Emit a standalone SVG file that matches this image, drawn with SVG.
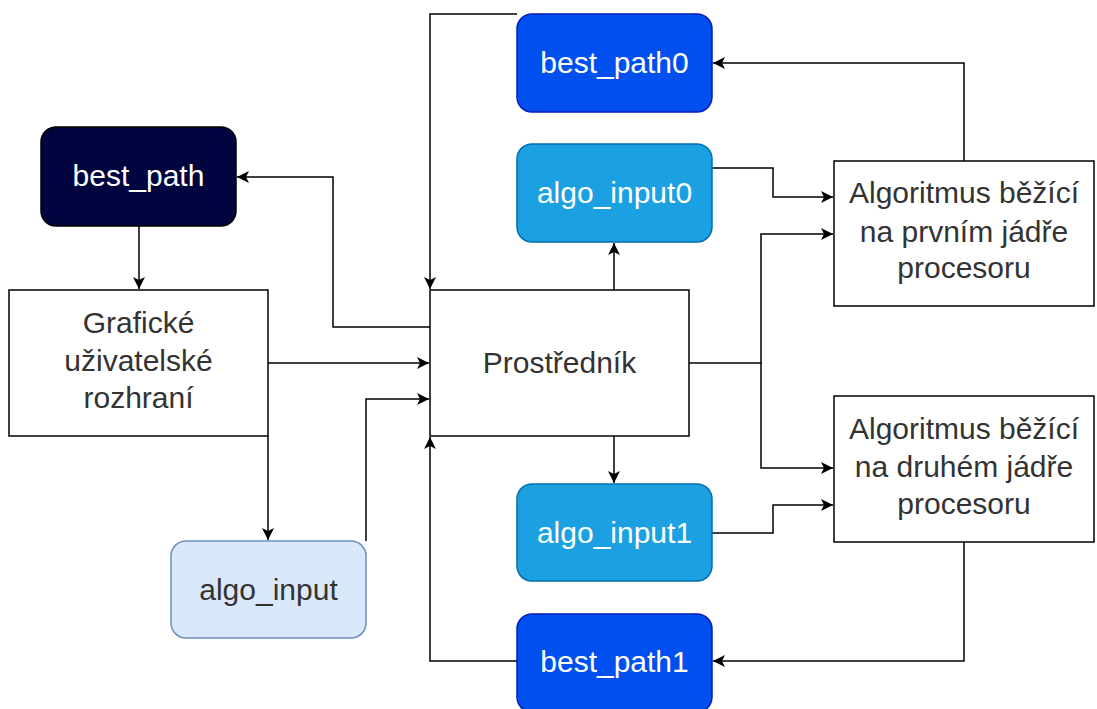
<svg xmlns="http://www.w3.org/2000/svg" width="1097" height="709" viewBox="0 0 1097 709">
<style>
.lbl{font-family:"Liberation Sans",Arial,sans-serif;font-size:30px;text-anchor:middle}
.w{fill:#ffffff}
.d{fill:#333333}
.box{fill:#ffffff;stroke:#000000;stroke-width:1.5}
.c{fill:none;stroke:#000000;stroke-width:1.5;marker-end:url(#arr)}
</style>
<defs>
<marker id="arr" markerUnits="userSpaceOnUse" markerWidth="14" markerHeight="12" refX="12" refY="6" orient="auto">
<path d="M0,0 L12,6 L0,12 L3,6 Z" fill="#000000"/>
</marker>
</defs>
<rect width="1097" height="709" fill="#ffffff"/>
<g id="connectors">
<path class="c" d="M139,226 V289"/>
<path class="c" d="M430,327 H333 V177 H237"/>
<path class="c" d="M268,363 H429"/>
<path class="c" d="M268,436 V540"/>
<path class="c" d="M366,541 V399 H429"/>
<path class="c" d="M517,14 H430 V289"/>
<path class="c" d="M614,290 V243"/>
<path class="c" d="M614,436 V483"/>
<path class="c" d="M517,661 H430 V437"/>
<path class="c" d="M712,168 H773 V197 H833"/>
<path class="c" d="M689,363 H761 V234 H833"/>
<path class="c" d="M761,363 V468 H833"/>
<path class="c" d="M712,533 H773 V505 H833"/>
<path class="c" d="M964,161 V63 H713"/>
<path class="c" d="M964,542 V661 H713"/>
</g>
<g id="best_path">
<rect x="41" y="127" width="195" height="99" rx="15" fill="#00043f" stroke="#000000" stroke-width="1.5"/>
<text class="lbl w" x="138.5" y="186">best_path</text>
</g>
<g id="gui">
<rect class="box" x="9" y="290" width="259" height="146"/>
<text class="lbl d" x="138.5" y="333">Grafické</text>
<text class="lbl d" x="138.5" y="371">uživatelské</text>
<text class="lbl d" x="138.5" y="408">rozhraní</text>
</g>
<g id="algo_input">
<rect x="171" y="541" width="195" height="97" rx="15" fill="#dae8fc" stroke="#6c8ebf" stroke-width="1.5"/>
<text class="lbl d" x="268.5" y="600">algo_input</text>
</g>
<g id="prostrednik">
<rect class="box" x="430" y="290" width="259" height="146"/>
<text class="lbl d" x="559.5" y="373">Prostředník</text>
</g>
<g id="best_path0">
<rect x="517" y="14" width="195" height="98" rx="15" fill="#0050ef" stroke="#001dbc" stroke-width="1.5"/>
<text class="lbl w" x="614.5" y="73">best_path0</text>
</g>
<g id="algo_input0">
<rect x="517" y="144" width="195" height="98" rx="15" fill="#1ba1e2" stroke="#006eaf" stroke-width="1.5"/>
<text class="lbl w" x="614.5" y="203">algo_input0</text>
</g>
<g id="algo_input1">
<rect x="517" y="484" width="195" height="97" rx="15" fill="#1ba1e2" stroke="#006eaf" stroke-width="1.5"/>
<text class="lbl w" x="614.5" y="543">algo_input1</text>
</g>
<g id="best_path1">
<rect x="517" y="614" width="195" height="98" rx="15" fill="#0050ef" stroke="#001dbc" stroke-width="1.5"/>
<text class="lbl w" x="614.5" y="672">best_path1</text>
</g>
<g id="algo1">
<rect class="box" x="834" y="161" width="260" height="145"/>
<text class="lbl d" x="964" y="203">Algoritmus běžící</text>
<text class="lbl d" x="964" y="242">na prvním jádře</text>
<text class="lbl d" x="964" y="278">procesoru</text>
</g>
<g id="algo2">
<rect class="box" x="834" y="396" width="260" height="146"/>
<text class="lbl d" x="964" y="439">Algoritmus běžící</text>
<text class="lbl d" x="964" y="477">na druhém jádře</text>
<text class="lbl d" x="964" y="514">procesoru</text>
</g>
</svg>
